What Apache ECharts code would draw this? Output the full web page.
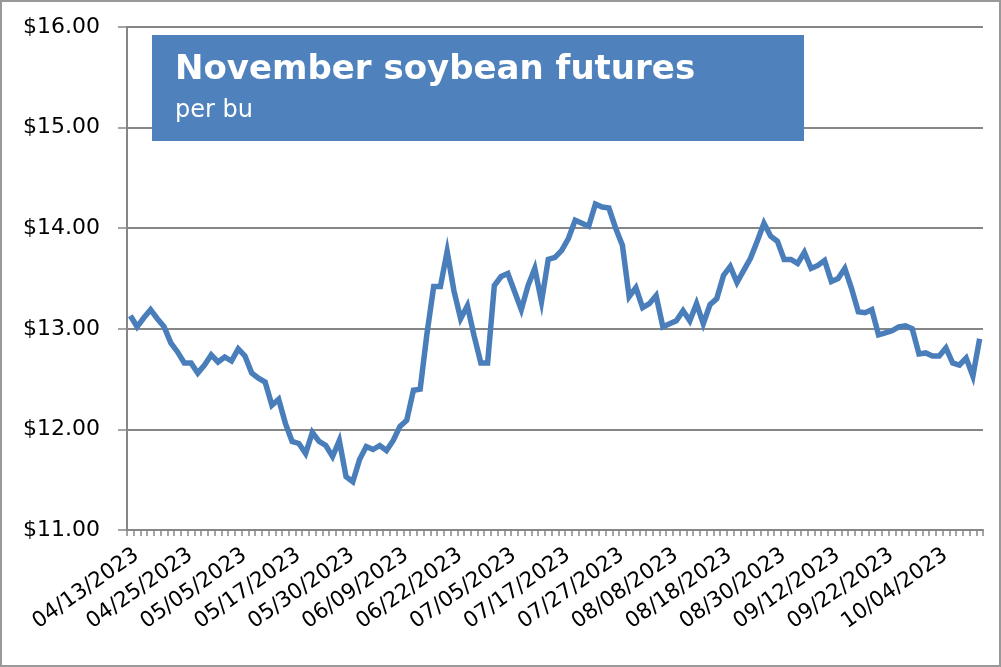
<!DOCTYPE html>
<html>
<head>
<meta charset="utf-8">
<title>November soybean futures</title>
<script src="https://cdn.jsdelivr.net/npm/echarts@6/dist/echarts.min.js"></script>
<style>
  html, body { margin: 0; padding: 0; background: #fff; }
  #chart { width: 1001px; height: 667px; box-sizing: border-box; border: 2px solid #999; }
</style>
</head>
<body>
<div id="chart"></div>
<script>
// daily settles, Nov soybean futures ($/bu)
var prices = [
  13.13, 13.02, 13.11, 13.19, 13.10, 13.02, 12.86, 12.77, 12.66, 12.66,
  12.56, 12.64, 12.74, 12.67, 12.72, 12.68, 12.80, 12.73, 12.56, 12.51,
  12.47, 12.24, 12.30, 12.06, 11.88, 11.86, 11.76, 11.97, 11.88, 11.84,
  11.73, 11.89, 11.53, 11.48, 11.70, 11.83, 11.80, 11.84, 11.79, 11.89,
  12.03, 12.09, 12.39, 12.40, 12.95, 13.42, 13.42, 13.77, 13.38, 13.10,
  13.23, 12.93, 12.66, 12.66, 13.43, 13.52, 13.55, 13.37, 13.19, 13.43,
  13.60, 13.27, 13.69, 13.71, 13.78, 13.90, 14.08, 14.05, 14.02, 14.24,
  14.21, 14.20, 14.00, 13.83, 13.32, 13.41, 13.21, 13.25, 13.33, 13.02,
  13.05, 13.08, 13.18, 13.08, 13.25, 13.05, 13.24, 13.30, 13.53, 13.62,
  13.46, 13.58, 13.70, 13.87, 14.05, 13.92, 13.87, 13.69, 13.69, 13.65,
  13.76, 13.60, 13.63, 13.68, 13.47, 13.50, 13.60, 13.40, 13.17, 13.16,
  13.19, 12.94, 12.96, 12.98, 13.02, 13.03, 13.00, 12.75, 12.76, 12.73,
  12.73, 12.81, 12.66, 12.64, 12.71, 12.53, 12.90
];

// trading days from 04/13/2023, market holidays skipped
var startDate = [2023, 4, 13];
var holidays = ['05/29/2023', '06/19/2023', '07/04/2023', '09/04/2023'];

var yTicks = [11, 12, 13, 14, 15, 16];

var titleText = 'November soybean futures';
var subText = 'per bu';

function pad(n) { return n < 10 ? '0' + n : '' + n; }

var dates = [];
var d = new Date(startDate[0], startDate[1] - 1, startDate[2]);
while (dates.length < prices.length) {
  var s = pad(d.getMonth() + 1) + '/' + pad(d.getDate()) + '/' + d.getFullYear();
  var wd = d.getDay();
  if (wd !== 0 && wd !== 6 && holidays.indexOf(s) < 0) dates.push(s);
  d.setDate(d.getDate() + 1);
}

var chart = echarts.init(document.getElementById('chart'));

chart.setOption({
  animation: false,
  textStyle: { fontFamily: 'DejaVu Sans' },
  grid: { left: 125, top: 25, right: 16, bottom: 135, containLabel: false },
  xAxis: {
    type: 'category',
    data: dates,
    boundaryGap: true,
    axisLine: { lineStyle: { color: '#868686', width: 2 } },
    axisTick: { show: true, interval: 0, length: 6, lineStyle: { color: '#868686', width: 1.5 } },
    axisLabel: {
      interval: 7,
      rotate: 35,
      margin: 14,
      verticalAlign: 'top',
      color: '#000',
      fontSize: 21.5,
      fontFamily: 'DejaVu Sans'
    },
    splitLine: { show: false }
  },
  yAxis: {
    type: 'value',
    min: yTicks[0],
    max: yTicks[yTicks.length - 1],
    interval: 1,
    axisLine: { show: true, lineStyle: { color: '#868686', width: 2 } },
    axisTick: { show: true, length: 9, lineStyle: { color: '#868686', width: 1.5 } },
    axisLabel: {
      margin: 27,
      color: '#000',
      fontSize: 22,
      fontFamily: 'DejaVu Sans',
      formatter: function (v) { return '$' + v.toFixed(2); }
    },
    splitLine: { show: true, lineStyle: { color: '#868686', width: 2 } }
  },
  graphic: [
    {
      type: 'rect',
      z: 10,
      shape: { x: 150, y: 33, width: 652, height: 106 },
      style: { fill: '#4F81BD' }
    },
    {
      type: 'text',
      z: 11,
      x: 173, y: 68,
      style: {
        text: titleText,
        fill: '#fff',
        font: 'bold 34px "DejaVu Sans"',
        verticalAlign: 'middle'
      }
    },
    {
      type: 'text',
      z: 11,
      x: 173, y: 109,
      style: {
        text: subText,
        fill: '#fff',
        font: '24px "DejaVu Sans"',
        verticalAlign: 'middle'
      }
    }
  ],
  series: [{
    type: 'line',
    data: prices,
    showSymbol: false,
    lineStyle: { color: '#4A7EBB', width: 5.5, join: 'miter' },
    itemStyle: { color: '#4A7EBB' }
  }]
});
</script>
</body>
</html>
